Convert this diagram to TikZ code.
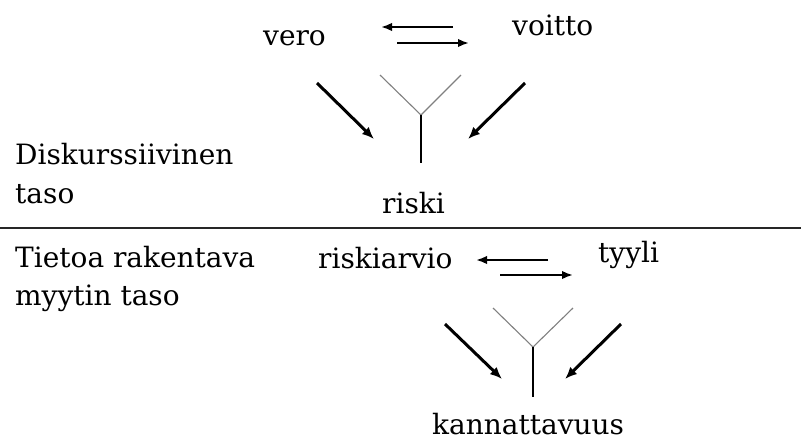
\documentclass[tikz,border=0pt]{standalone}
\usepackage{fontspec}
\setmainfont{DejaVu Serif}
\usetikzlibrary{arrows.meta}
\begin{document}
\begin{tikzpicture}[x=1pt,y=-1pt,
  lbl/.style={anchor=base west,inner sep=0pt,font=\fontsize{28}{39}\selectfont},
  thinarrow/.style={line width=2.1pt,-{Latex[length=11pt,width=8.5pt]}},
  diagarrow/.style={line width=3pt,-{Latex[length=12pt,width=10pt]}},
  arm/.style={line width=1.1pt,draw=gray},
  stem/.style={line width=1.2pt,draw=black}]
\useasboundingbox (0,0) rectangle (801,440);
\fill[white] (0,0) rectangle (801,440);
% separator
\coordinate (sepL) at (0,228);
\coordinate (sepR) at (801,228);
\draw[line width=1.6pt,draw=black!85] (sepL) -- (sepR);
% level labels
\node[lbl] (d1) at (15,164) {Diskurssiivinen};
\node[lbl] (d2) at (15,203) {taso};
\node[lbl] (t1) at (15,267) {Tietoa rakentava};
\node[lbl] (t2) at (15,305) {myytin taso};
% upper level
\node[lbl] (vero) at (263,45) {vero};
\node[lbl] (voitto) at (512,35) {voitto};
\node[lbl] (riski) at (382,213) {riski};
\coordinate (a1s) at (453,27); \coordinate (a1e) at (381,27);
\coordinate (a2s) at (397,43); \coordinate (a2e) at (469,43);
\draw[thinarrow] (a1s) -- (a1e);
\draw[thinarrow] (a2s) -- (a2e);
\coordinate (y1l) at (380,75); \coordinate (y1r) at (461,75);
\coordinate (y1j) at (421,115); \coordinate (y1b) at (421,163);
\draw[arm] (y1l) -- (y1j) -- (y1r);
\draw[stem] (y1j) -- (y1b);
\coordinate (d1s) at (317,83); \coordinate (d1e) at (374,139);
\coordinate (d2s) at (525,83); \coordinate (d2e) at (468,139);
\draw[diagarrow] (d1s) -- (d1e);
\draw[diagarrow] (d2s) -- (d2e);
% lower level
\node[lbl] (riskiarvio) at (318,268) {riskiarvio};
\node[lbl] (tyyli) at (598,262) {tyyli};
\node[lbl] (kann) at (432,434) {kannattavuus};
\coordinate (b1s) at (548,260); \coordinate (b1e) at (476,260);
\coordinate (b2s) at (500,275); \coordinate (b2e) at (573,275);
\draw[thinarrow] (b1s) -- (b1e);
\draw[thinarrow] (b2s) -- (b2e);
\coordinate (y2l) at (493,308); \coordinate (y2r) at (573,308);
\coordinate (y2j) at (533,347); \coordinate (y2b) at (533,397);
\draw[arm] (y2l) -- (y2j) -- (y2r);
\draw[stem] (y2j) -- (y2b);
\coordinate (e1s) at (445,324); \coordinate (e1e) at (502,379);
\coordinate (e2s) at (621,324); \coordinate (e2e) at (565,379);
\draw[diagarrow] (e1s) -- (e1e);
\draw[diagarrow] (e2s) -- (e2e);
\end{tikzpicture}
\end{document}
